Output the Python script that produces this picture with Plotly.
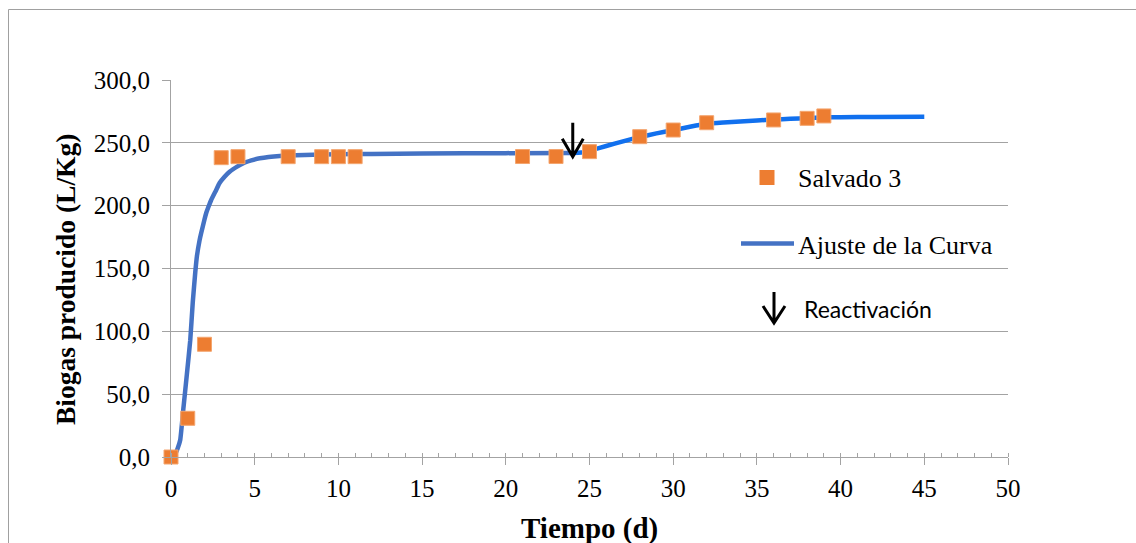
import plotly.graph_objects as go

# Measured biogas (Salvado 3)
days = [0, 1, 2, 3, 4, 7, 9, 10, 11, 21, 23, 25, 28, 30, 32, 36, 38, 39]
biogas = [0.0, 30.8, 89.7, 238.2, 239.0, 239.0, 239.0, 239.0, 239.0, 239.1, 239.1,
          243.0, 254.9, 260.2, 266.0, 268.2, 269.5, 271.4]

# Fitted curve, first phase (up to reactivation)
fit_t1 = [0, 0.2, 0.4, 0.55, 0.75, 0.95, 1.15, 1.3, 1.45, 1.55, 1.7, 1.8, 2.0, 2.1,
          2.25, 2.4, 2.7, 2.9, 3.2, 3.5, 4.0, 4.3, 4.8, 5.3, 6.5, 8, 10, 12, 15, 20, 24]
fit_y1 = [0, 1, 7, 13.5, 40, 66, 93, 123, 147, 160, 172, 178, 189, 194,
          199.5, 204.5, 212.5, 218, 223, 227, 231.5, 233.7, 236, 237.7, 239.6, 240.4,
          240.9, 241.2, 241.5, 241.8, 242.0]

# Fitted curve, second phase (after reactivation)
fit_t2 = [24, 24.5, 25, 26, 27, 28, 29, 30, 31, 32, 33, 34, 35, 36, 37, 38, 39, 40, 42, 45]
fit_y2 = [242.0, 242.3, 243.8, 247.5, 251.2, 254.6, 257.5, 260.1, 262.8, 265.2, 266.2,
          267.0, 267.8, 268.5, 269.1, 269.7, 270.1, 270.4, 270.6, 270.8]

reactivation_day = 24
reactivation_level = 239

x_ticks = [0, 5, 10, 15, 20, 25, 30, 35, 40, 45, 50]
y_ticks = [0, 50, 100, 150, 200, 250, 300]

W, H = 1136, 543
ML, MR, MT, MB = 171, 128, 80, 86
PW, PH = W - ML - MR, H - MT - MB


def px(x):
    return (x - ML) / PW


def py(y):
    return (H - MB - y) / PH


SERIF = "Liberation Serif"
GRID = "#A3A3A3"
ORANGE = "#ED7D31"
BLUE1 = "#4472C4"
BLUE2 = "#1170EE"

fig = go.Figure()
fig.add_trace(go.Scatter(x=fit_t1, y=fit_y1, mode="lines", name="Ajuste de la Curva",
                         line=dict(color=BLUE1, width=4.5, shape="spline", smoothing=0.4),
                         showlegend=False))
fig.add_trace(go.Scatter(x=fit_t2, y=fit_y2, mode="lines", name="Ajuste de la Curva",
                         line=dict(color=BLUE2, width=4.5, shape="spline", smoothing=0.4),
                         showlegend=False))
fig.add_trace(go.Scatter(x=days, y=biogas, mode="markers", name="Salvado 3",
                         marker=dict(symbol="square", size=14, color=ORANGE,
                                     line=dict(color="#F4A56E", width=1)),
                         cliponaxis=False, showlegend=False))

shapes = []
# outer chart frame
shapes.append(dict(type="rect", xref="paper", yref="paper",
                   x0=px(8.5), x1=px(1160), y0=py(9.5), y1=py(560),
                   line=dict(color="#A0A0A0", width=1), layer="below"))

# reactivation arrow on the curve
arrow_path = "M0,34 L0,0 M-10.5,18 L0,0 L10.5,18"
shapes.append(dict(type="path", xref="x", yref="y", xsizemode="pixel", ysizemode="pixel",
                   xanchor=reactivation_day, yanchor=reactivation_level,
                   path=arrow_path, line=dict(color="black", width=3)))

# custom legend symbols
shapes.append(dict(type="rect", xref="paper", yref="paper",
                   x0=px(759.5), x1=px(774.5), y0=py(185), y1=py(170),
                   fillcolor=ORANGE, line=dict(width=0)))
shapes.append(dict(type="line", xref="paper", yref="paper",
                   x0=px(741), x1=px(794), y0=py(243.5), y1=py(243.5),
                   line=dict(color=BLUE1, width=4.5)))
shapes.append(dict(type="path", xref="paper", yref="paper", xsizemode="pixel", ysizemode="pixel",
                   xanchor=px(774), yanchor=py(323), path="M0,31 L0,0 M-11,17 L0,0 L11,17",
                   line=dict(color="black", width=3)))

annotations = [
    dict(text="Salvado 3", xref="paper", yref="paper", x=px(796), y=py(178),
         xanchor="left", yanchor="middle", showarrow=False,
         font=dict(family=SERIF, size=26, color="black")),
    dict(text="Ajuste de la Curva", xref="paper", yref="paper", x=px(796), y=py(245),
         xanchor="left", yanchor="middle", showarrow=False,
         font=dict(family=SERIF, size=26, color="black")),
    dict(text="Reactivación", xref="paper", yref="paper", x=px(802), y=py(309),
         xanchor="left", yanchor="middle", showarrow=False,
         font=dict(family="Lato", size=23, color="black")),
    dict(text="<b>Tiempo (d)</b>", xref="paper", yref="paper", x=0.5, y=py(528),
         xanchor="center", yanchor="middle", showarrow=False,
         font=dict(family=SERIF, size=29, color="black")),
    dict(text="<b>Biogas producido (L/Kg)</b>", xref="paper", yref="paper", x=px(65), y=py(279),
         xanchor="center", yanchor="middle", textangle=-90, showarrow=False,
         font=dict(family=SERIF, size=27.5, color="black")),
]

fig.update_layout(
    width=W, height=H,
    margin=dict(l=ML, r=MR, t=MT, b=MB, autoexpand=False),
    paper_bgcolor="white", plot_bgcolor="white",
    font=dict(family=SERIF, color="black"),
    separators=", ",
    showlegend=False,
    shapes=shapes,
    annotations=annotations,
    xaxis=dict(range=[0, 50], tickvals=x_ticks, showgrid=False, zeroline=False,
               showline=True, linecolor=GRID, linewidth=1,
               ticks="outside", ticklen=7, tickcolor=GRID, tickwidth=1,
               minor=dict(ticks="inside", dtick=1, ticklen=4, tickcolor=GRID, tickwidth=1,
                          showgrid=False),
               ticklabelstandoff=2,
               tickfont=dict(family=SERIF, size=25, color="black")),
    yaxis=dict(range=[0, 300], tickvals=y_ticks, tickformat=".1f",
               showgrid=True, gridcolor=GRID, gridwidth=1, zeroline=False,
               showline=True, linecolor=GRID, linewidth=1,
               ticks="outside", ticklen=8, tickcolor=GRID, tickwidth=1,
               ticklabelstandoff=7,
               tickfont=dict(family=SERIF, size=25, color="black")),
)

fig.write_html("out.html")
